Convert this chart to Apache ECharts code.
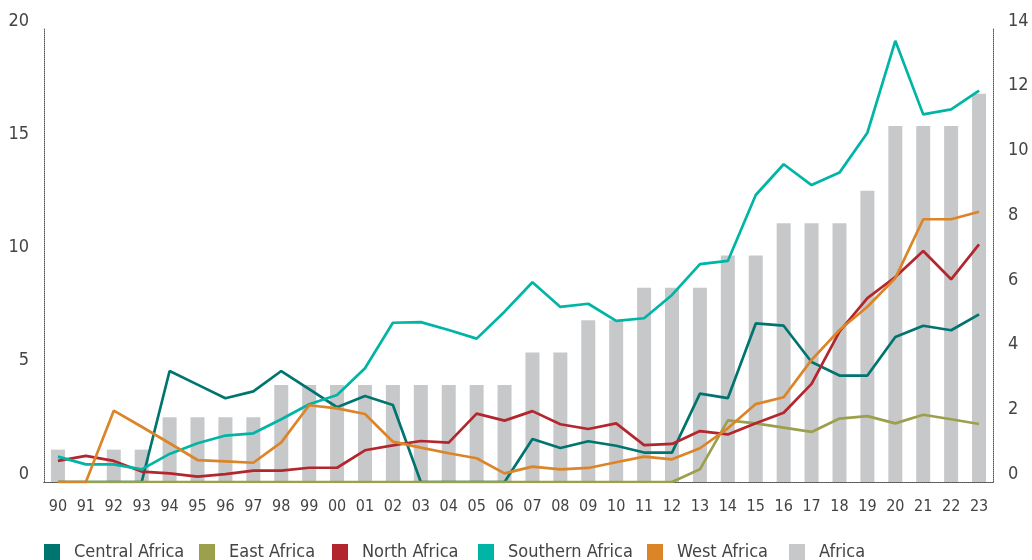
<!DOCTYPE html>
<html>
<head>
<meta charset="utf-8">
<script src="https://cdn.jsdelivr.net/npm/echarts@6/dist/echarts.min.js"></script>
<style>
  html, body { margin: 0; padding: 0; background: #fff; }
  #chart { width: 1032px; height: 560px; }
</style>
</head>
<body>
<div id="chart"></div>
<script>
// years along the bottom
const years = ['90','91','92','93','94','95','96','97','98','99','00','01','02','03','04','05','06',
  '07','08','09','10','11','12','13','14','15','16','17','18','19','20','21','22','23'];

// lines, left axis
const centralAfrica = [0,0,0,0,4.9,4.3,3.7,4.0,4.9,4.1,3.3,3.8,3.4,0,0,0,0,1.9,1.5,1.8,1.6,1.3,1.3,3.9,3.7,7.0,6.9,5.3,4.7,4.7,6.4,6.9,6.7,7.4];
const eastAfrica = [0,0,0,0,0,0,0,0,0,0,0,0,0,0,0,0,0,0,0,0,0,0,0,0.56,2.72,2.59,2.4,2.21,2.8,2.91,2.59,2.97,2.77,2.56];
const northAfrica = [0.93,1.15,0.93,0.46,0.38,0.24,0.35,0.5,0.5,0.63,0.63,1.4,1.62,1.81,1.74,3.02,2.71,3.13,2.55,2.34,2.59,1.63,1.68,2.25,2.1,2.59,3.06,4.33,6.64,8.12,9.05,10.2,8.95,10.49];
const southernAfrica = [1.12,0.78,0.78,0.56,1.24,1.71,2.05,2.15,2.77,3.43,3.84,5.02,7.03,7.06,6.71,6.33,7.52,8.82,7.73,7.87,7.11,7.23,8.26,9.62,9.76,12.67,14.03,13.11,13.66,15.42,19.48,16.23,16.45,17.28];
const westAfrica = [0,0,3.15,2.44,1.71,0.97,0.91,0.85,1.75,3.39,3.25,3.0,1.78,1.52,1.27,1.05,0.38,0.68,0.56,0.62,0.87,1.12,1.0,1.49,2.37,3.44,3.74,5.39,6.71,7.74,9.0,11.6,11.6,11.93];

// bars, right axis
const africa = [1,0,1,1,2,2,2,2,3,3,3,3,3,3,3,3,3,4,4,5,5,6,6,6,7,7,8,8,8,9,11,11,11,12];

const legendNames = ['Central Africa', 'East Africa', 'North Africa', 'Southern Africa', 'West Africa', 'Africa'];
const legendLeft = [39, 194, 327, 473, 642, 784];

const font = "'DejaVu Sans Condensed', 'Liberation Sans Narrow', sans-serif";
const dotted = { show: true, lineStyle: { color: '#555', width: 1, type: 'dotted' } };

function lineSeries(name, data, color) {
  return {
    name: name,
    type: 'line',
    data: data,
    yAxisIndex: 0,
    symbol: 'none',
    z: 3,
    lineStyle: { width: 2.7, color: color },
    itemStyle: { color: color }
  };
}

// one legend per item so each sits where it does in the original
const legends = legendNames.map((n, i) => ({
  left: legendLeft[i],
  top: 538,
  icon: 'rect',
  itemWidth: 16,
  itemHeight: 16,
  textStyle: { fontSize: 18, color: '#444', fontFamily: font, padding: [0, 0, 0, 9] },
  data: [n]
}));

const chart = echarts.init(document.getElementById('chart'));

chart.setOption({
  animation: false,
  backgroundColor: '#ffffff',
  textStyle: { fontFamily: font },
  grid: { left: 44, right: 39, top: 29, bottom: 78 },
  legend: legends,
  xAxis: [{
    type: 'category',
    data: years,
    boundaryGap: true,
    axisLine: dotted,
    axisTick: { show: false },
    axisLabel: { fontSize: 16, color: '#444', margin: 17, interval: 0 }
  }, {
    type: 'category',
    position: 'top',
    data: years,
    axisLine: dotted,
    axisTick: { show: false },
    axisLabel: { show: false }
  }],
  yAxis: [{
    type: 'value',
    min: 0,
    max: 20,
    interval: 5,
    axisLine: dotted,
    axisTick: { show: false },
    splitLine: { show: false },
    axisLabel: { fontSize: 18, color: '#444', margin: 15, verticalAlign: 'bottom', lineHeight: 16 }
  }, {
    type: 'value',
    min: 0,
    max: 14,
    interval: 2,
    position: 'right',
    axisLine: dotted,
    axisTick: { show: false },
    splitLine: { show: false },
    axisLabel: { fontSize: 18, color: '#444', margin: 15, verticalAlign: 'bottom', lineHeight: 16 }
  }],
  series: [
    lineSeries('Central Africa', centralAfrica, '#007570'),
    lineSeries('East Africa', eastAfrica, '#9ca04c'),
    lineSeries('North Africa', northAfrica, '#b3262e'),
    lineSeries('Southern Africa', southernAfrica, '#00b5a5'),
    lineSeries('West Africa', westAfrica, '#dc8428'),
    {
      name: 'Africa',
      type: 'bar',
      data: africa,
      yAxisIndex: 1,
      barWidth: 14,
      z: 1,
      itemStyle: { color: '#c7c8ca' }
    }
  ]
});
</script>
</body>
</html>
